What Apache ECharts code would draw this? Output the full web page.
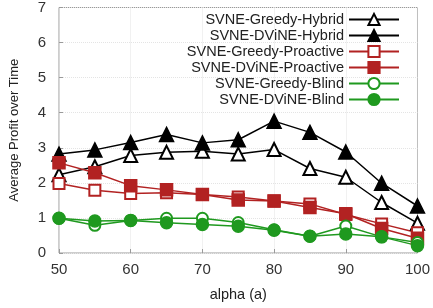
<!DOCTYPE html>
<html>
<head>
<meta charset="utf-8">
<script src="https://cdn.jsdelivr.net/npm/echarts@6/dist/echarts.min.js"></script>
<style>
  html, body { margin: 0; padding: 0; background: #fff; }
  #chart { width: 433px; height: 308px; }
</style>
</head>
<body>
<div id="chart"></div>
<script>
// alpha values on the x axis
const alpha = [50, 55, 60, 65, 70, 75, 80, 85, 90, 95, 100]

// profit values
const greedyHybrid = [2.23, 2.46, 2.78, 2.87, 2.90, 2.82, 2.95, 2.41, 2.16, 1.44, 0.85]
const dvineHybrid = [2.82, 2.94, 3.15, 3.38, 3.14, 3.23, 3.76, 3.44, 2.88, 1.99, 1.34]
const greedyProactive = [1.98, 1.79, 1.70, 1.72, 1.67, 1.60, 1.48, 1.40, 1.10, 0.83, 0.58]
const dvineProactive = [2.57, 2.29, 1.92, 1.80, 1.67, 1.51, 1.48, 1.30, 1.12, 0.70, 0.42]
const greedyBlind = [0.99, 0.79, 0.93, 0.99, 0.99, 0.87, 0.66, 0.48, 0.77, 0.46, 0.30]
const dvineBlind = [0.99, 0.91, 0.93, 0.86, 0.81, 0.76, 0.65, 0.48, 0.54, 0.46, 0.21]

const yTicks = [0, 1, 2, 3, 4, 5, 6, 7]

const BLACK = '#000000'
const RED = '#b22222'
const GREEN = '#1f991f'

// 把两个数组拼成 [x, y]
function pairs(ys) {
  return alpha.map((a, i) => [a, ys[i]])
}

function makeSeries(name, ys, symbol, color, size) {
  return {
    name: name,
    type: 'line',
    data: pairs(ys),
    symbol: symbol,
    symbolSize: size,
    showAllSymbol: true,
    lineStyle: { color: color, width: 1.5 },
    itemStyle: { color: color, borderColor: color, borderWidth: 1.5 },
    emphasis: { disabled: true },
    animation: false
  }
}

const chart = echarts.init(document.getElementById('chart'), null, { renderer: 'canvas' })

const font = '"Liberation Sans", Arial, sans-serif'

const option = {
  textStyle: { fontFamily: font },
  grid: {
    left: 57,
    right: 12,
    top: 7,
    bottom: 55,
    show: true,
    borderColor: '#9a9a9a',
    borderWidth: 1
  },
  legend: {
    orient: 'vertical',
    right: 28,
    top: 7,
    align: 'right',
    itemWidth: 50,
    itemHeight: 14,
    itemGap: 1,
    textStyle: { fontFamily: font, fontSize: 14.5, lineHeight: 14, color: '#222' },
    data: ['SVNE-Greedy-Hybrid', 'SVNE-DViNE-Hybrid', 'SVNE-Greedy-Proactive',
      'SVNE-DViNE-Proactive', 'SVNE-Greedy-Blind', 'SVNE-DViNE-Blind']
  },
  xAxis: {
    type: 'value',
    min: 50,
    max: 100,
    interval: 10,
    name: 'alpha (a)',
    nameLocation: 'middle',
    nameGap: 34,
    nameTextStyle: { fontFamily: font, fontSize: 14.5, color: '#222' },
    axisLine: { show: false },
    axisTick: { show: true, inside: true, length: 4, lineStyle: { color: '#9a9a9a' } },
    axisLabel: { fontFamily: font, fontSize: 15, color: '#333', margin: 9 },
    splitLine: { show: true, lineStyle: { color: '#e4e4e4', type: 'dotted' } }
  },
  yAxis: {
    type: 'value',
    min: yTicks[0],
    max: yTicks[yTicks.length - 1],
    interval: 1,
    name: 'Average Profit over Time',
    nameLocation: 'middle',
    nameGap: 38,
    nameTextStyle: { fontFamily: font, fontSize: 13, color: '#222' },
    axisLine: { show: false },
    axisTick: { show: true, inside: true, length: 4, lineStyle: { color: '#9a9a9a' } },
    axisLabel: { fontFamily: font, fontSize: 15, color: '#333', margin: 13 },
    splitLine: { show: true, lineStyle: { color: '#e4e4e4', type: 'dotted' } }
  },
  series: [
    makeSeries('SVNE-Greedy-Hybrid', greedyHybrid, 'emptyTriangle', BLACK, 13),
    makeSeries('SVNE-DViNE-Hybrid', dvineHybrid, 'triangle', BLACK, 14),
    makeSeries('SVNE-Greedy-Proactive', greedyProactive, 'emptyRect', RED, 11),
    makeSeries('SVNE-DViNE-Proactive', dvineProactive, 'rect', RED, 12),
    makeSeries('SVNE-Greedy-Blind', greedyBlind, 'emptyCircle', GREEN, 11),
    makeSeries('SVNE-DViNE-Blind', dvineBlind, 'circle', GREEN, 12)
  ]
}

chart.setOption(option)
</script>
</body>
</html>
